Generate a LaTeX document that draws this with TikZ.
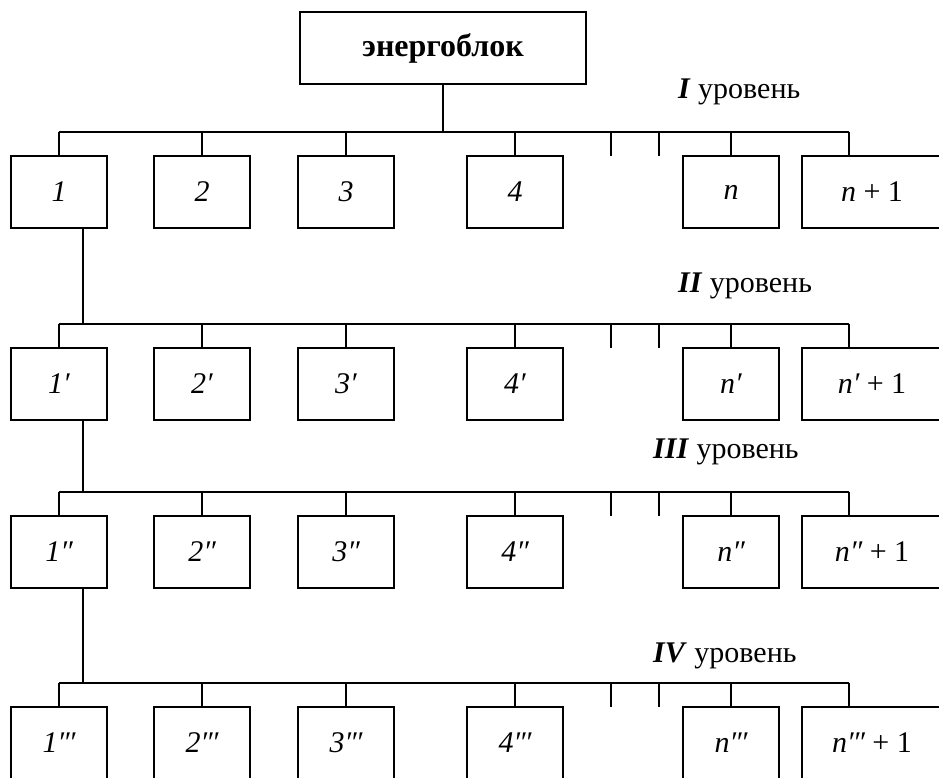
\documentclass[tikz,border=0pt]{standalone}
\usepackage{fontspec}
\setmainfont{Liberation Serif}
\usetikzlibrary{calc}
\begin{document}
\begin{tikzpicture}[x=1pt,y=-1pt,
  ln/.style={line width=1.8pt},
  box/.style={draw,line width=1.8pt,minimum width=96pt,minimum height=72pt,inner sep=0pt,
    font=\fontsize{30}{36}\selectfont\itshape},
  widebox/.style={box,minimum width=140pt},
  topbox/.style={draw,line width=1.8pt,minimum width=286pt,minimum height=72pt,inner sep=0pt,
    font=\fontsize{32}{38}\selectfont\bfseries},
  lvl/.style={anchor=base west,inner sep=0pt,font=\fontsize{30}{34}\selectfont}]
\useasboundingbox (0,0) rectangle (939,778);
\clip (0,0) rectangle (939,778);

\node[topbox] (top) at (443,48) {энергоблок};

\foreach \r/\by/\p in {1/132/{}, 2/324/{′}, 3/492/{″}, 4/683/{′\kern-1pt′\kern-1pt′}} {
  \path (0,\by) coordinate (bus\r);
  \node[box] (r\r-1) at (59,\by+60) {1\p};
  \node[box] (r\r-2) at (202,\by+60) {2\p};
  \node[box] (r\r-3) at (346,\by+60) {3\p};
  \node[box] (r\r-4) at (515,\by+60) {4\p};
  \node[box] (r\r-n) at (731,\by+60) {n\p};
  \node[widebox] (r\r-m) at (872,\by+60) {n\p\ \upshape+ 1};
  \path ($(r\r-m.north west)+(48,0)$) coordinate (m\r);
  \draw[ln] (r\r-1.north |- bus\r) -- (m\r |- bus\r);
  \foreach \c in {1,2,3,4,n} {
    \draw[ln] (r\r-\c.north) -- (r\r-\c.north |- bus\r);
  }
  \draw[ln] (m\r) -- (m\r |- bus\r);
  \draw[ln] (611,\by) -- ++(0,24);
  \draw[ln] (659,\by) -- ++(0,24);
}

\draw[ln] (top.south) -- (top.south |- bus1);
\path ($(r1-1.south)+(24,0)$) coordinate (d1)
      ($(r2-1.south)+(24,0)$) coordinate (d2)
      ($(r3-1.south)+(24,0)$) coordinate (d3);
\draw[ln] (d1) -- (d1 |- bus2);
\draw[ln] (d2) -- (d2 |- bus3);
\draw[ln] (d3) -- (d3 |- bus4);

\node[lvl] (l1) at (678,99) {\textbf{\textit{I}} уровень};
\node[lvl] (l2) at (678,292) {\textbf{\textit{II}} уровень};
\node[lvl] (l3) at (653,458) {\textbf{\textit{III}} уровень};
\node[lvl] (l4) at (653,662) {\textbf{\textit{IV}} уровень};
\end{tikzpicture}
\end{document}
